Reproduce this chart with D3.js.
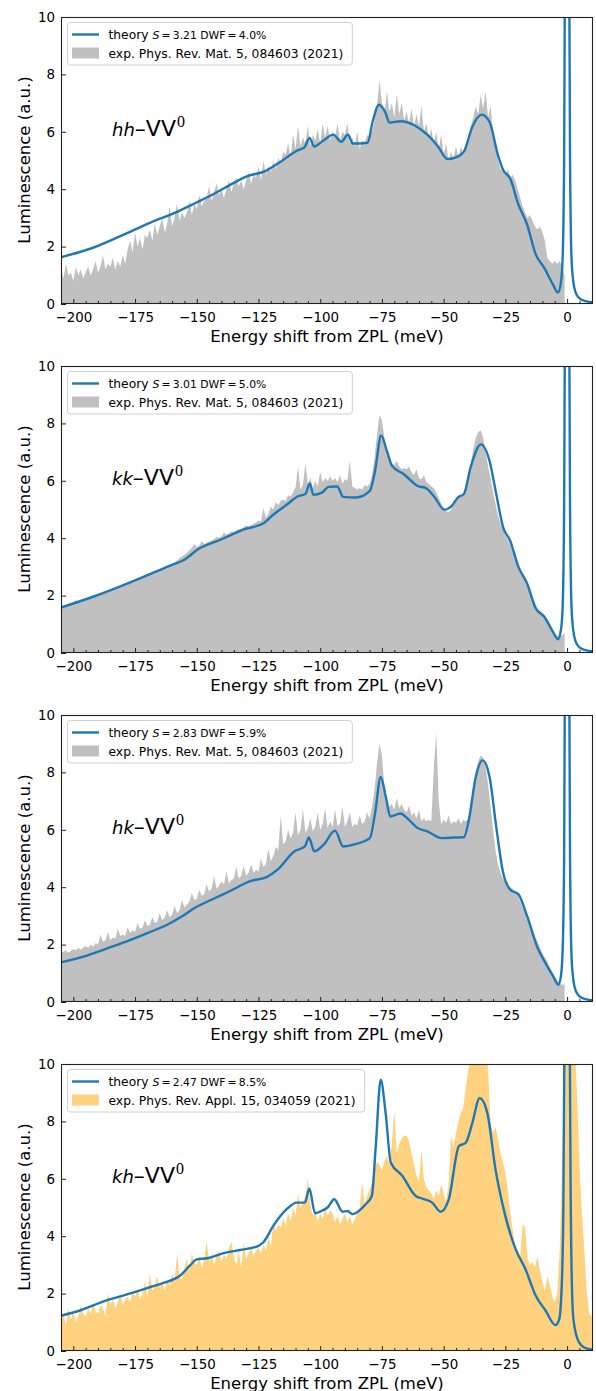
<!DOCTYPE html>
<html>
<head>
<meta charset="utf-8">
<script src="https://cdn.jsdelivr.net/npm/d3@7"></script>
<style>
body { margin: 0; background: #fff; }
svg text { font-family: "DejaVu Sans", sans-serif; fill: #000; }
</style>
</head>
<body>
<svg id="chart" width="596" height="1391"></svg>
<script>
// axis ticks
const xTicks = [-200, -175, -150, -125, -100, -75, -50, -25, 0];
const yTicks = [0, 2, 4, 6, 8, 10];

// panel texts
const defectNames = ['hh', 'kk', 'hk', 'kh'];
const huangRhys = ['3.21', '3.01', '2.83', '2.47'];
const dwf = ['4.0', '5.0', '5.9', '8.5'];
const expRefs = [
    'exp. Phys. Rev. Mat. 5, 084603 (2021)',
    'exp. Phys. Rev. Mat. 5, 084603 (2021)',
    'exp. Phys. Rev. Mat. 5, 084603 (2021)',
    'exp. Phys. Rev. Appl. 15, 034059 (2021)'
];

// experimental spectra, 1 meV steps starting at expStart
const expStart = -205;

const hhExp = [
    1.2, 0.9, 1.4, 1.0, 1.1, 0.8, 1.3, 1.0, 1.2, 0.9, 1.1, 1.3, 1.0,
    1.2, 1.5, 1.1, 1.3, 1.7, 1.2, 1.4,
    1.3, 1.6, 1.2, 1.5, 1.3, 1.7, 1.4,
    1.9, 2.2, 1.8, 2.5, 2.0, 2.3, 1.9, 2.4,
    2.3, 2.6, 2.2, 2.8, 2.4, 2.7, 3.0, 2.5,
    2.8, 3.4, 2.7, 3.0, 3.5, 2.9, 3.2, 3.0,
    3.2, 3.6, 3.1, 3.5, 3.3, 3.8, 3.4, 3.6,
    3.7, 4.1, 3.6, 3.9, 4.2, 3.8, 4.0, 3.7,
    4.0, 4.3, 3.9, 4.2, 4.4, 4.1, 4.3, 4.0,
    4.3, 4.6, 4.2, 4.5, 4.4, 4.8, 4.3, 5.0,
    4.5, 4.8, 4.6, 5.0, 4.7, 5.1, 4.9, 5.3,
    5.2, 5.6, 5.1, 5.9, 5.4, 6.2, 5.5, 5.8,
    5.6, 6.2, 5.5, 5.9, 5.7, 6.1, 5.6, 6.3,
    5.8, 6.2, 5.7, 6.0, 5.8, 6.3, 5.7, 6.0,
    5.9, 6.3, 5.6, 5.8, 5.5, 6.0, 5.4, 5.7,
    5.6, 5.9, 5.8, 6.0, 6.4, 6.9,
    7.8, 7.0, 6.6, 7.4, 6.7, 7.0, 6.5, 7.3,
    6.6, 7.0, 6.4, 6.7, 6.3, 6.8, 6.2, 6.6,
    6.2, 6.9, 6.0, 6.3, 5.8, 6.1, 5.6, 6.0,
    5.4, 5.9, 5.2, 5.6, 5.0, 5.3, 5.1, 5.5,
    5.1, 5.5, 5.2, 5.4, 5.6, 6.2, 6.5, 6.9,
    6.6, 7.3, 6.8, 7.4, 6.5, 6.9, 6.0, 5.6,
    5.0, 4.7, 4.6, 4.5, 4.7, 4.4, 4.5, 4.3,
    4.0, 3.7, 3.4, 3.2, 3.0, 3.1, 2.9, 2.7, 2.6, 2.7,
    2.5, 2.2, 1.6, 1.5, 1.4, 1.5, 1.4, 1.5, 1.3, 1.0
];

const kkExp = [
    1.58, 1.62, 1.66, 1.70, 1.68, 1.74, 1.85, 1.78, 1.76, 1.80,
    1.84, 1.86, 1.90, 1.93, 1.95, 1.98, 2.01, 2.05, 2.08, 2.11,
    2.14, 2.18, 2.22, 2.26, 2.29, 2.33, 2.36, 2.40, 2.44, 2.47,
    2.52, 2.56, 2.60, 2.64, 2.70, 2.74, 2.76, 2.80, 2.84, 2.88,
    2.90, 2.94, 2.98, 3.02, 3.06, 3.12, 3.16, 3.22, 3.30, 3.36,
    3.42, 3.48, 3.58, 3.66, 3.80, 3.70, 3.74, 3.90, 3.80, 3.84,
    3.88, 3.92, 3.96, 4.05, 4.02, 4.06, 4.20, 4.12, 4.16, 4.25,
    4.22, 4.28, 4.32, 4.30, 4.38, 4.45, 4.40, 4.46, 4.50, 4.55,
    4.62, 4.58, 5.05, 4.70, 4.85, 5.10, 5.00, 5.25, 5.15, 5.30,
    5.35, 5.30, 5.50, 5.45, 5.60, 5.75, 6.50, 5.70, 5.85, 6.60,
    5.90, 6.10, 5.75, 6.00, 5.80, 6.30, 5.95, 6.10, 6.00, 6.15,
    6.00, 6.10, 5.95, 6.20, 5.90, 6.05, 6.00, 6.70, 5.80, 5.75,
    5.70, 5.75, 5.70, 5.85, 5.80, 5.90, 6.20, 6.80, 7.60, 8.30,
    8.10, 7.50, 7.00, 6.80, 6.60, 6.55, 6.70, 6.50, 6.40, 6.45,
    6.40, 6.50, 6.30, 6.20, 6.40, 6.10, 6.05, 6.20, 5.95, 5.90,
    5.80, 5.75, 5.60, 5.40, 5.20, 5.05, 4.95, 4.90, 5.00, 5.15,
    5.30, 5.45, 5.50, 5.55, 5.70, 6.10, 6.60, 7.10, 7.50, 7.70,
    7.75, 7.50, 7.00, 6.50, 6.10, 5.60, 5.20, 4.80, 4.50, 4.30,
    4.10, 3.95, 3.75, 3.50, 3.25, 3.05, 2.85, 2.65, 2.50, 2.30,
    2.15, 1.95, 1.75, 1.55, 1.40, 1.30, 1.20, 1.05, 0.90, 0.78,
    0.68, 0.60, 0.58, 0.62, 0.70
];

const hkExp = [
    1.70, 1.75, 1.80, 1.72, 1.78, 1.85, 1.80, 1.88, 1.82, 1.90,
    1.95, 1.88, 2.00, 1.92, 2.05, 2.00, 2.35, 2.10, 2.15, 2.45,
    2.15, 2.25, 2.20, 2.55, 2.30, 2.35, 2.30, 2.60, 2.40, 2.50,
    2.45, 2.75, 2.55, 2.60, 2.85, 2.65, 2.70, 2.95, 2.75, 2.80,
    3.10, 2.85, 2.95, 3.20, 2.95, 3.05, 3.35, 3.10, 3.20, 3.55,
    3.30, 3.40, 3.50, 3.80, 3.55, 3.60, 3.90, 3.70, 3.75, 4.10,
    3.85, 3.95, 4.40, 3.95, 4.05, 4.20, 4.10, 4.55, 4.15, 4.25,
    4.30, 4.70, 4.30, 4.40, 4.75, 4.40, 4.50, 4.80, 4.50, 4.60,
    4.55, 5.00, 4.70, 4.80, 5.35, 4.90, 5.10, 5.40, 5.30, 6.50,
    5.50, 5.60, 6.00, 5.70, 5.90, 6.60, 5.80, 6.00, 6.70, 5.90,
    6.05, 6.40, 5.95, 6.10, 6.60, 6.00, 6.20, 6.75, 6.05, 6.30,
    6.10, 6.70, 6.15, 6.20, 6.80, 6.10, 6.30, 6.60, 6.10, 6.20,
    6.15, 6.50, 6.20, 6.30, 6.60, 6.40, 6.80, 7.40, 8.30, 9.00,
    8.60, 7.50, 7.00, 6.80, 6.90, 6.70, 7.10, 6.75, 6.90, 6.70,
    6.60, 6.85, 6.50, 6.60, 6.40, 6.70, 6.30, 6.40, 6.30, 6.35,
    6.30, 8.10, 9.40, 7.00, 6.20, 6.35, 6.25, 6.50, 6.20, 6.30,
    6.25, 6.40, 6.20, 6.35, 6.30, 6.40, 6.60, 7.20, 7.90, 8.40,
    8.60, 8.50, 8.20, 7.60, 6.80, 6.00, 5.30, 4.80, 4.50, 4.30,
    4.15, 4.05, 4.00, 3.95, 3.85, 3.70, 3.50, 3.30, 3.10, 2.95,
    2.75, 2.55, 2.30, 2.10, 1.90, 1.70, 1.55, 1.40, 1.20, 1.05,
    0.90, 0.75, 0.65, 0.60, 0.62
];

const khExp = [
    1.0, 1.3, 0.9, 1.5, 1.1, 1.4, 1.0, 1.2, 1.6, 1.3,
    1.2, 1.5, 1.3, 1.7, 1.4, 1.3, 1.6, 1.5, 1.2, 2.0,
    1.6, 1.8, 1.5, 1.7, 2.0, 1.6, 1.8, 1.9, 1.7, 2.1,
    1.9, 2.2, 1.8, 2.0, 2.4, 1.9, 2.7, 2.1, 2.3, 2.6,
    2.2, 2.4, 2.1, 2.5, 2.3, 2.7, 2.4, 3.4, 2.6, 2.5,
    2.9, 3.2, 2.8, 3.4, 3.1, 3.0, 3.3, 2.9, 3.2, 3.8,
    3.1, 3.4, 3.0, 3.3, 3.5, 3.1, 3.4, 3.2, 3.6, 3.8,
    3.3, 3.0, 3.5, 2.9, 3.8, 3.2, 3.4, 3.6, 3.3, 3.5,
    3.6, 3.4, 3.7, 3.5, 4.0, 3.6, 4.5, 4.2, 4.4, 4.3,
    4.6, 4.4, 4.8, 4.5, 5.0, 4.7, 5.5, 5.0, 5.2, 5.4,
    6.0, 5.1, 4.7, 4.9, 4.5, 4.8, 4.6, 5.0, 4.7, 4.9,
    4.8, 4.5, 4.7, 4.4, 4.6, 4.8, 4.5, 4.7, 4.4, 4.6,
    4.8, 5.0, 5.9, 5.1, 5.4, 5.6, 5.9, 6.3, 6.6, 6.5,
    6.3, 6.6, 6.8, 6.5, 7.2, 8.4, 6.9, 7.2, 7.4, 7.5,
    7.5, 7.3, 6.9, 6.5, 6.1, 5.9, 7.0, 6.0, 5.7, 5.6,
    5.5, 5.3, 5.6, 5.4, 5.8, 5.5, 5.2, 5.8, 7.5, 7.1,
    7.6, 8.0, 8.3, 8.5, 9.2, 9.8, 10.5, 10.8, 11.0, 11.0,
    11.0, 10.8, 10.5, 9.8, 8.0, 7.6, 7.8, 7.4, 6.9, 6.6,
    6.2, 5.6, 4.8, 4.2, 3.6, 3.5, 3.3, 4.4, 4.3, 3.2,
    3.0, 3.1, 2.9, 3.3, 2.8, 2.4, 2.1, 2.6, 2.3, 1.9,
    1.7, 2.0, 3.5, 6.5, 11.0,
    11.0, 11.0, 11.0, 11.0, 9.0, 6.5, 4.8, 3.5, 2.0, 1.3, 1.2
];

// theory curves: [energy (meV), luminescence]
const hhTheory = [
    [-206, 1.61], [-192, 1.96], [-178, 2.48], [-169, 2.83], [-157.5, 3.23], [-150.5, 3.52],
    [-143, 3.84], [-136.5, 4.15], [-130, 4.44], [-122, 4.64], [-116, 4.96], [-109, 5.36],
    [-106.4, 5.46], [-104.3, 5.79], [-102.5, 5.49], [-98.8, 5.69], [-94.7, 5.90], [-91.5, 5.65],
    [-88.7, 5.90], [-86.8, 5.59], [-80.8, 5.62], [-78.8, 6.34], [-76.2, 6.94], [-73.7, 6.69],
    [-71.9, 6.32], [-67.5, 6.37], [-61.9, 6.23], [-56.4, 5.88], [-52.2, 5.48], [-48.5, 5.05],
    [-45.3, 5.10], [-41.8, 5.31], [-38.4, 6.17], [-34.6, 6.60], [-31.4, 6.34], [-28, 5.19],
    [-25.9, 4.67], [-23.1, 4.38], [-19.7, 3.46], [-16.2, 2.77], [-12.7, 1.73], [-9.3, 1.27],
    [-5.8, 0.69], [-3.7, 0.40], [-2.5, 0.75], [-1.8, 1.6], [-1.2, 5], [-0.8, 13], [0, 60],
    [0.8, 13], [1.2, 5], [1.8, 1.6], [2.5, 0.8], [3.5, 0.4], [5, 0.2], [7.5, 0.1], [10.5, 0.06]
];

const kkTheory = [
    [-206, 1.56], [-192, 1.96], [-178.2, 2.42], [-170, 2.71], [-160.3, 3.06], [-155.4, 3.23],
    [-149.2, 3.63], [-139.5, 3.98], [-131.2, 4.30], [-122.9, 4.52], [-119.4, 4.79], [-113.2, 5.19],
    [-109, 5.46], [-106, 5.54], [-104.2, 5.91], [-102.8, 5.51], [-99.3, 5.59], [-96.5, 5.79],
    [-93.1, 5.80], [-90.7, 5.44], [-85.5, 5.42], [-79.9, 5.65], [-77.8, 6.34], [-75.3, 7.58],
    [-73, 7.04], [-70.9, 6.52], [-66.1, 6.23], [-60.5, 5.82], [-57.1, 5.74], [-53.6, 5.42],
    [-49.7, 4.99], [-46.7, 5.13], [-44.2, 5.42], [-41.8, 5.54], [-39.1, 6.46], [-34.9, 7.27],
    [-31.4, 6.69], [-28.7, 5.54], [-25.9, 4.38], [-23.1, 3.92], [-19.7, 3.00], [-16.2, 2.42],
    [-12.7, 1.56], [-9.3, 1.27], [-5.8, 0.75], [-3.7, 0.48], [-2.5, 0.8], [-1.8, 1.6], [-1.2, 5],
    [-0.8, 13], [0, 60], [0.8, 13], [1.2, 5], [1.8, 1.6], [2.5, 0.8], [3.5, 0.4], [5, 0.2],
    [7.5, 0.1], [10.5, 0.06]
];

const hkTheory = [
    [-206, 1.36], [-194.9, 1.61], [-185.2, 1.90], [-175.5, 2.21], [-170, 2.40], [-161.6, 2.71],
    [-156.1, 2.98], [-150.6, 3.29], [-143.6, 3.58], [-136.7, 3.86], [-128.4, 4.21], [-121.5, 4.36],
    [-117.3, 4.61], [-110.4, 5.25], [-106.2, 5.42], [-104.6, 5.73], [-102.4, 5.25], [-98.6, 5.48],
    [-94, 5.97], [-90.7, 5.42], [-85.5, 5.51], [-79.9, 5.71], [-77.8, 6.57], [-75.5, 7.84],
    [-73.3, 7.09], [-71.6, 6.46], [-67.5, 6.57], [-64.7, 6.40], [-60.5, 6.06], [-56.4, 5.94],
    [-50.8, 5.71], [-45.3, 5.73], [-41.8, 5.74], [-39.8, 6.34], [-37, 7.84], [-34.2, 8.42],
    [-31.4, 7.84], [-28.7, 6.11], [-25.9, 4.50], [-23.1, 3.92], [-19.7, 3.75], [-16.2, 3.00],
    [-12, 1.90], [-9.3, 1.44], [-5.8, 0.92], [-3.5, 0.60], [-2.5, 0.9], [-1.8, 1.8], [-1.2, 5],
    [-0.8, 13], [0, 60], [0.8, 13], [1.2, 5], [1.8, 1.6], [2.5, 0.8], [3.5, 0.4], [5, 0.2],
    [7.5, 0.1], [10.5, 0.06]
];

const khTheory = [
    [-206, 1.21], [-197.1, 1.42], [-187.7, 1.73], [-178.3, 1.97], [-174.2, 2.08], [-168.8, 2.23],
    [-163.5, 2.37], [-156.7, 2.63], [-152.7, 2.98], [-150, 3.19], [-145.9, 3.23], [-139.2, 3.41],
    [-132.5, 3.52], [-125.7, 3.64], [-123, 3.79], [-119, 4.36], [-113.6, 4.94], [-109.5, 5.17],
    [-106.2, 5.17], [-104.4, 5.66], [-102.1, 4.80], [-99, 4.90], [-97, 5.0], [-94.3, 5.29],
    [-90.9, 4.85], [-88.9, 4.88], [-86.9, 4.77], [-81.5, 5.12], [-79.1, 5.40], [-77.5, 7.14],
    [-75.5, 9.45], [-73.5, 8.29], [-71.4, 6.56], [-66.7, 6.10], [-61.3, 5.40], [-58.6, 5.31],
    [-54.6, 5.17], [-51.2, 4.85], [-47.9, 5.29], [-43.8, 7.14], [-41.1, 7.25], [-38.4, 7.94],
    [-35.4, 8.81], [-32.3, 8.29], [-29, 6.33], [-26.3, 5.17], [-20.9, 3.56], [-16.9, 2.86],
    [-12.8, 1.94], [-8.8, 1.42], [-4.7, 0.90], [-3.2, 1.1], [-2.2, 2.2], [-1.5, 5], [-1, 12],
    [0, 60], [1, 12], [1.5, 5], [2.2, 1.6], [2.7, 1.02], [4.7, 0.32], [7, 0.12], [10.5, 0.04]
];

const theorySeries = [hhTheory, kkTheory, hkTheory, khTheory];
const expSeries = [hhExp, kkExp, hkExp, khExp];

const expColors = ['#c0c0c0', '#c0c0c0', '#c0c0c0', '#ffd280'];
const theoryColor = '#1f77b4';

const plotLeft = 61;
const plotRight = 593;
const plotHeight = 287;
const panelStep = 349;
const firstTop = 17;

const svg = d3.select('#chart');

const x = d3.scaleLinear()
    .domain([-205, 10.5])
    .range([plotLeft, plotRight]);

const line = y => d3.line()
    .x(d => x(d[0]))
    .y(d => y(d[1]))
    .curve(d3.curveMonotoneX);

function drawPanel(i) {
    const top = firstTop + i * panelStep;
    const bottom = top + plotHeight;

    const y = d3.scaleLinear()
        .domain([0, 10])
        .range([bottom, top]);

    const g = svg.append('g');

    const clipId = `clip-${i}`;
    svg.append('clipPath')
        .attr('id', clipId)
        .append('rect')
        .attr('x', plotLeft)
        .attr('y', top)
        .attr('width', plotRight - plotLeft)
        .attr('height', plotHeight);

    const plot = g.append('g').attr('clip-path', `url(#${clipId})`);

    const expPoints = expSeries[i].map((v, k) => [expStart + k, v]);
    const area = d3.area()
        .x(d => x(d[0]))
        .y0(y(0))
        .y1(d => y(d[1]));

    plot.append('path')
        .datum(expPoints)
        .attr('d', area)
        .attr('fill', expColors[i]);

    plot.append('path')
        .datum(theorySeries[i])
        .attr('d', line(y))
        .attr('fill', 'none')
        .attr('stroke', theoryColor)
        .attr('stroke-width', 2.4)
        .attr('stroke-linejoin', 'round');

    // minor ticks
    const minorAxis = d3.axisBottom(x)
        .tickValues(d3.range(-205, 11, 5).filter(t => xTicks.indexOf(t) < 0))
        .tickSizeInner(-3)
        .tickSizeOuter(0)
        .tickFormat('');

    const minorG = g.append('g')
        .attr('transform', `translate(0,${bottom})`)
        .call(minorAxis);
    minorG.select('.domain').remove();

    const xAxis = d3.axisBottom(x)
        .tickValues(xTicks)
        .tickSizeInner(-5)
        .tickSizeOuter(0)
        .tickPadding(8)
        .tickFormat(d3.format('d'));

    const xG = g.append('g')
        .attr('transform', `translate(0,${bottom})`)
        .call(xAxis);
    xG.select('.domain').remove();

    const yAxis = d3.axisLeft(y)
        .tickValues(yTicks)
        .tickSizeInner(-5)
        .tickSizeOuter(0)
        .tickPadding(6);

    const yG = g.append('g')
        .attr('transform', `translate(${plotLeft},0)`)
        .call(yAxis);
    yG.select('.domain').remove();

    g.selectAll('.tick line').attr('stroke', '#222').attr('stroke-width', 1);
    g.selectAll('.tick text')
        .style('font-family', '"DejaVu Sans", sans-serif')
        .style('font-size', '13.4px')
        .attr('fill', '#000');

    // frame
    g.append('rect')
        .attr('x', plotLeft + 0.5)
        .attr('y', top + 0.5)
        .attr('width', plotRight - plotLeft - 1)
        .attr('height', plotHeight - 1)
        .attr('fill', 'none')
        .attr('stroke', '#222')
        .attr('stroke-width', 1.1);

    // axis labels
    g.append('text')
        .attr('x', (plotLeft + plotRight) / 2)
        .attr('y', bottom + 37.5)
        .attr('text-anchor', 'middle')
        .style('font-size', '16.5px')
        .text('Energy shift from ZPL (meV)');

    g.append('text')
        .attr('transform', `translate(30,${top + 143}) rotate(-90)`)
        .attr('text-anchor', 'middle')
        .style('font-size', '16.5px')
        .text('Luminescence (a.u.)');

    // defect label
    const label = g.append('text')
        .attr('x', 112)
        .attr('y', top + 118.5);
    label.append('tspan')
        .style('font-style', 'italic')
        .style('font-size', '18px')
        .text(defectNames[i]);
    label.append('tspan')
        .style('font-size', '22px')
        .text('\u2013VV');
    label.append('tspan')
        .attr('dy', -8.5)
        .attr('dx', 1)
        .style('font-family', '"Liberation Serif", serif')
        .style('font-size', '16px')
        .text('0');

    // legend
    const legend = g.append('g');
    const box = legend.append('rect')
        .attr('x', 67.5)
        .attr('y', top + 5.5)
        .attr('height', 42.5)
        .attr('rx', 3)
        .attr('fill', '#fff')
        .attr('fill-opacity', 0.8)
        .attr('stroke', '#d0d0d0')
        .attr('stroke-width', 1);

    legend.append('line')
        .attr('x1', 72)
        .attr('x2', 99)
        .attr('y1', top + 17.5)
        .attr('y2', top + 17.5)
        .attr('stroke', theoryColor)
        .attr('stroke-width', 2.4);

    legend.append('rect')
        .attr('x', 72)
        .attr('y', top + 30.5)
        .attr('width', 27)
        .attr('height', 11)
        .attr('fill', expColors[i]);

    const t1 = legend.append('text')
        .attr('x', 108.5)
        .attr('y', top + 21.5)
        .style('font-size', '12.3px');
    t1.append('tspan').text('theory ');
    t1.append('tspan')
        .style('font-style', 'italic')
        .style('font-size', '11px')
        .text('S');
    t1.append('tspan')
        .style('font-size', '10.8px')
        .text(`\u2009=\u2009${huangRhys[i]} DWF\u2009=\u2009${dwf[i]}%`);

    const t2 = legend.append('text')
        .attr('x', 108.5)
        .attr('y', top + 40.5)
        .style('font-size', '12.3px')
        .text(expRefs[i]);

    const textEnd = 108.5 + Math.max(
        t1.node().getComputedTextLength(),
        t2.node().getComputedTextLength()
    );
    box.attr('width', textEnd + 9 - 67.5);
}

[0, 1, 2, 3].forEach(drawPanel);
</script>
</body>
</html>
